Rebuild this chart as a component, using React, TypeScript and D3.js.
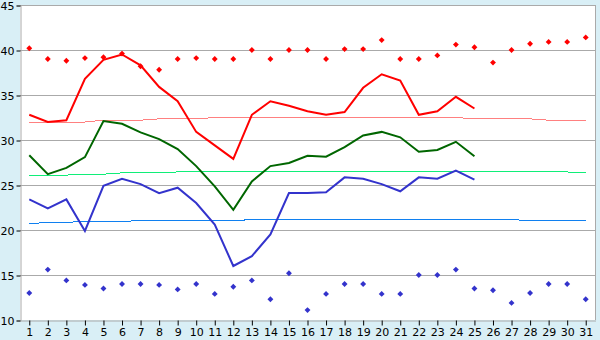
import React, { useEffect, useRef } from 'react';
import * as d3 from 'd3';

// days of the month
const days = [1, 2, 3, 4, 5, 6, 7, 8, 9, 10, 11, 12, 13, 14, 15, 16, 17, 18, 19, 20, 21, 22, 23, 24, 25, 26, 27, 28, 29, 30, 31];
const yTicks = [10, 15, 20, 25, 30, 35, 40, 45];

// records (markers)
const recordMax = [40.2, 39.0, 38.8, 39.1, 39.2, 39.6, 38.2, 37.8, 39.0, 39.1, 39.0, 39.0, 40.0, 39.0, 40.0, 40.0, 39.0, 40.1, 40.1, 41.1, 39.0, 39.0, 39.4, 40.6, 40.3, 38.6, 40.0, 40.7, 40.9, 40.9, 41.4];
const recordMin = [13.0, 15.6, 14.4, 13.9, 13.5, 14.0, 14.0, 13.9, 13.4, 14.0, 12.9, 13.7, 14.4, 12.3, 15.2, 11.1, 12.9, 14.0, 14.0, 12.9, 12.9, 15.0, 15.0, 15.6, 13.5, 13.3, 11.9, 13.0, 14.0, 14.0, 12.3];

// observed values (first 25 days)
const obsMax = [32.8, 32.0, 32.2, 36.8, 38.9, 39.5, 38.3, 35.9, 34.3, 30.9, 29.4, 27.9, 32.8, 34.3, 33.8, 33.2, 32.8, 33.1, 35.8, 37.3, 36.6, 32.8, 33.2, 34.8, 33.5];
const obsMean = [28.3, 26.2, 26.9, 28.1, 32.1, 31.8, 30.85, 30.1, 29.0, 27.1, 24.85, 22.25, 25.4, 27.1, 27.45, 28.25, 28.15, 29.2, 30.5, 30.9, 30.3, 28.7, 28.9, 29.8, 28.2];
const obsMin = [23.4, 22.4, 23.4, 19.9, 24.9, 25.7, 25.1, 24.1, 24.7, 23.0, 20.6, 16.0, 17.1, 19.5, 24.1, 24.1, 24.2, 25.85, 25.7, 25.1, 24.3, 25.85, 25.7, 26.6, 25.6];

// normals
const normMax = [32.0, 32.0, 32.0, 32.0, 32.2, 32.2, 32.2, 32.35, 32.35, 32.35, 32.5, 32.5, 32.5, 32.5, 32.5, 32.5, 32.5, 32.5, 32.5, 32.5, 32.5, 32.5, 32.5, 32.5, 32.35, 32.35, 32.35, 32.35, 32.2, 32.2, 32.2];
const normMean = [26.0, 26.1, 26.1, 26.2, 26.2, 26.35, 26.35, 26.35, 26.45, 26.45, 26.45, 26.55, 26.55, 26.55, 26.55, 26.55, 26.55, 26.55, 26.55, 26.55, 26.55, 26.55, 26.55, 26.55, 26.55, 26.55, 26.55, 26.45, 26.45, 26.45, 26.35];
const normMin = [20.7, 20.85, 20.85, 20.95, 20.95, 20.95, 21.05, 21.05, 21.05, 21.05, 21.05, 21.05, 21.15, 21.15, 21.15, 21.15, 21.15, 21.15, 21.15, 21.15, 21.15, 21.15, 21.15, 21.15, 21.15, 21.15, 21.15, 21.05, 21.05, 21.05, 21.05];

const App: React.FC = () => {
  const ref = useRef<SVGSVGElement>(null);

  useEffect(() => {
    const width = 600;
    const height = 340;
    const margin = { top: 5, right: 5, bottom: 20, left: 20 };

    const svg = d3.select(ref.current);
    svg.selectAll('*').remove();

    svg.append('rect')
      .attr('width', width)
      .attr('height', height)
      .attr('fill', '#d9eff6');

    const x = d3.scaleBand<number>()
      .domain(days)
      .range([margin.left, width - margin.right]);
    const cx = (d: number) => x(d)! + x.bandwidth() / 2;

    const y = d3.scaleLinear()
      .domain([10, 45])
      .range([height - margin.bottom, margin.top]);

    svg.append('rect')
      .attr('x', margin.left)
      .attr('y', margin.top)
      .attr('width', width - margin.left - margin.right)
      .attr('height', height - margin.top - margin.bottom)
      .attr('fill', '#fff');

    // gridlines
    svg.append('g')
      .selectAll('line')
      .data(yTicks.slice(1))
      .join('line')
      .attr('x1', margin.left)
      .attr('x2', width - margin.right)
      .attr('y1', d => Math.round(y(d)) + 0.5)
      .attr('y2', d => Math.round(y(d)) + 0.5)
      .attr('stroke', '#aaa');

    // right border
    svg.append('line')
      .attr('x1', width - margin.right + 0.5)
      .attr('x2', width - margin.right + 0.5)
      .attr('y1', margin.top)
      .attr('y2', height - margin.bottom)
      .attr('stroke', '#aaa');

    // axes
    const yAxis = svg.append('g')
      .attr('transform', `translate(${margin.left + 0.5},0.5)`)
      .call(d3.axisLeft(y).tickValues(yTicks).tickSize(4).tickPadding(2));
    const xAxis = svg.append('g')
      .attr('transform', `translate(0.5,${height - margin.bottom + 0.5})`)
      .call(d3.axisBottom(x).tickSize(5).tickPadding(3).tickSizeOuter(0));

    [yAxis, xAxis].forEach(a => {
      a.select('.domain').attr('stroke', '#aaa');
      a.selectAll('.tick line').attr('stroke', '#000');
      a.selectAll('text')
        .attr('fill', '#000')
        .style('font-family', '"DejaVu Sans", Verdana, sans-serif')
        .style('font-size', '11px');
    });

    const line = d3.line<number>()
      .x((_, i) => cx(days[i]))
      .y(d => y(d));

    const thin = [
      { data: normMax, color: '#ff8080' },
      { data: normMean, color: '#10ee78' },
      { data: normMin, color: '#1080f0' },
    ];
    thin.forEach(s => {
      svg.append('path')
        .attr('d', line(s.data))
        .attr('fill', 'none')
        .attr('stroke', s.color)
        .attr('stroke-width', 1)
        .attr('shape-rendering', 'crispEdges');
    });

    const thick = [
      { data: obsMax, color: '#ff0000' },
      { data: obsMean, color: '#006600' },
      { data: obsMin, color: '#3333cc' },
    ];
    thick.forEach(s => {
      svg.append('path')
        .attr('d', line(s.data))
        .attr('fill', 'none')
        .attr('stroke', s.color)
        .attr('stroke-width', 2);
    });

    const diamond = d3.symbol().type(d3.symbolDiamond2).size(22);
    const markers = [
      { data: recordMax, color: '#ff0000' },
      { data: recordMin, color: '#3333cc' },
    ];
    markers.forEach(s => {
      svg.append('g')
        .selectAll('path')
        .data(s.data)
        .join('path')
        .attr('d', diamond()!)
        .attr('transform', (d, i) => `translate(${cx(days[i])},${y(d)})`)
        .attr('fill', s.color);
    });
  }, []);

  return (
    <svg
      ref={ref}
      width={600}
      height={340}
      style={{ position: 'absolute', left: 0, top: 0, display: 'block' }}
    />
  );
};

export default App;
